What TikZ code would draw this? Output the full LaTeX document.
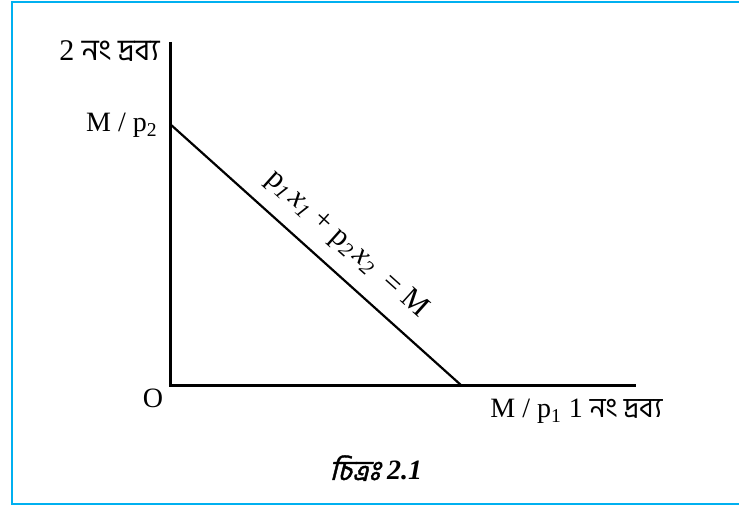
\documentclass[tikz,border=0pt]{standalone}
\usepackage{fontspec}
\setmainfont{Liberation Serif}
\newfontfamily\bnfont[Script=Bengali]{Hind Siliguri}
\newfontfamily\bnslant[Script=Bengali,FakeSlant=0.25,FakeBold=1.5]{Hind Siliguri}
\definecolor{framecyan}{RGB}{0,176,240}

\begin{document}
\begin{tikzpicture}[
    x=0.5pt, y=-0.5pt,
    axis/.style={line width=1.5pt, black},
    budget/.style={line width=1.1pt, black},
    frame/.style={line width=1.4pt, framecyan},
    lbl/.style={inner sep=0pt, font=\fontsize{14}{16}\selectfont}
]
\useasboundingbox (0,0) rectangle (739,506);

% Frame
\draw[frame] (739,2) -- (12,2) -- (12,504) -- (739,504);

% Axes
\coordinate (O) at (170,386);
\coordinate (ytop) at (170,42);
\coordinate (xend) at (636,386);
\coordinate (yint) at (170,124);
\coordinate (xint) at (462,386);
\draw[axis] (ytop) -- (O) -- (xend);

% Budget line
\draw[budget] (yint) -- node[pos=0.54, sloped, above=7pt, lbl, font=\fontsize{15}{17}\selectfont] (eq)
    {p\textsubscript{\textit{1}}\kern1.5pt\textit{x}\textsubscript{\textit{1}} + p\textsubscript{\textit{2}}\kern1.5pt\textit{x}\textsubscript{\textit{2}}\ \ = M} (xint);

% Labels
\node[lbl, anchor=base east] (ylbl) at (160,61) {{\fontsize{15}{17}\selectfont 2 \bnfont নং দ্রব্য}};
\node[lbl, anchor=base east] (mp2) at (158,132) {M\ /\ p\textsubscript{2}};
\node[lbl, anchor=base] (olbl) at (153,408) {O};
\node[lbl, anchor=base west] (mp1) at (490,418) {M\ /\ p\textsubscript{1}\ 1 {\bnfont নং দ্রব্য}};

% Caption
\node[lbl, anchor=base] (cap) at (376,480) {{\bnslant চিত্রঃ}\ \textbf{\textit{2.1}}};

\end{tikzpicture}
\end{document}
